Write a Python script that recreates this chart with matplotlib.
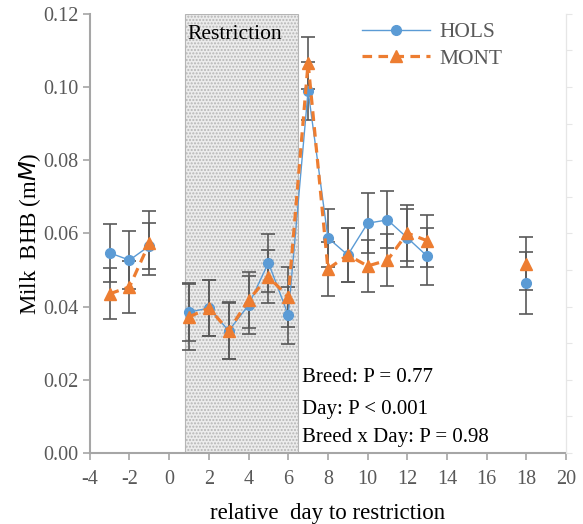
import numpy as np
import matplotlib
matplotlib.use("Agg")
import matplotlib.pyplot as plt

plt.rcParams['font.family'] = ['Liberation Serif', 'DejaVu Serif']
plt.rcParams['axes.unicode_minus'] = False
plt.rcParams['hatch.color'] = '#c4c4c4'

# relative day to restriction (NaN rows break the lines at day 0 and after day 13)
days = [-3, -2, -1, 0, 1, 2, 3, 4, 5, 6, 7, 8, 9, 10, 11, 12, 13, 14, 18]

hols = [0.0547, 0.0527, 0.0566, np.nan, 0.0385, 0.0396, 0.0334, 0.0404, 0.0520, 0.0377,
        0.0990, 0.0588, 0.0541, 0.0628, 0.0637, 0.0588, 0.0538, np.nan, 0.0465]
hols_err = [0.0080, 0.0079, 0.0063, np.nan, 0.0079, 0.0077, 0.0077, 0.0079, 0.0079, 0.0078,
            0.0079, 0.0079, 0.0075, 0.0082, 0.0078, 0.0079, 0.0078, np.nan, 0.0085]

mont = [0.0435, 0.0454, 0.0574, np.nan, 0.0372, 0.0396, 0.0334, 0.0418, 0.0482, 0.0426,
        0.1066, 0.0503, 0.0541, 0.0511, 0.0527, 0.0601, 0.0580, np.nan, 0.0517]
mont_err = [0.0070, 0.0071, 0.0087, np.nan, 0.0090, 0.0077, 0.0078, 0.0077, 0.0072, 0.0081,
            0.0071, 0.0074, 0.0075, 0.0071, 0.0071, 0.0077, 0.0071, np.nan, 0.0072]

restriction = (0.8, 6.5)
stats = ["Breed: P = 0.77", "Day: P < 0.001", "Breed x Day: P = 0.98"]
stats_y = [0.0205, 0.0118, 0.0041]

fig = plt.figure(figsize=(5.83, 5.24), dpi=100)
ax = fig.add_axes([0.154, 0.1355, 0.817, 0.838])

# shaded restriction period
ax.axvspan(restriction[0], restriction[1], facecolor='#ececec', edgecolor='#b5b5b5',
           hatch='.....', linewidth=0.8, zorder=0)
ax.text(restriction[0] + 0.1, 0.1145, "Restriction", fontsize=15.5, va='center')

# error bars
ax.errorbar(days, hols, yerr=hols_err, fmt='none', ecolor='#595959', elinewidth=1.2,
            capsize=5, capthick=1.2, zorder=2)
ax.errorbar(days, mont, yerr=mont_err, fmt='none', ecolor='#595959', elinewidth=1.2,
            capsize=5, capthick=1.2, zorder=2)

ax.plot(days, hols, color='#5B9BD5', linewidth=1.0, marker='o', markersize=7,
        label='HOLS', zorder=3)
ax.plot(days, mont, color='#ED7D31', linewidth=2.3, linestyle=(0, (3, 2)), marker='^',
        markersize=8, label='MONT', zorder=4)

for s, y in zip(stats, stats_y):
    ax.text(6.7, y, s, fontsize=15, va='center', ha='left')

ax.set_xlim(-4, 20)
ax.set_ylim(0, 0.12)
ax.set_xticks(range(-4, 21, 2))
ax.set_yticks(np.arange(0, 0.121, 0.02))
ax.set_yticklabels([f"{v:.2f}" for v in np.arange(0, 0.121, 0.02)])

ax.set_xlabel("relative  day to restriction", fontsize=16.5, labelpad=10)
ax.set_ylabel("Milk  BHB (m$\\it{M}$)", fontsize=16.5, labelpad=0)

ax.spines['top'].set_visible(False)
ax.spines['right'].set_color('#e6e6e6')
for sp in ['left', 'bottom']:
    ax.spines[sp].set_color('#a6a6a6')
    ax.spines[sp].set_linewidth(1.5)
ax.tick_params(axis='both', colors='#a6a6a6', labelcolor='#595959', labelsize=14.5,
               length=5, width=1.2, direction='out')
ax.tick_params(axis='x', pad=7)
ax.tick_params(axis='y', pad=3)

# faint right-hand axis ticks
ax2 = ax.twinx()
ax2.set_ylim(0, 0.12)
ax2.set_yticks(np.arange(0, 0.121, 0.01))
ax2.set_yticklabels([])
ax2.tick_params(axis='y', colors='#e6e6e6', length=4)
for sp in ['top', 'left', 'bottom']:
    ax2.spines[sp].set_visible(False)
ax2.spines['right'].set_color('#e6e6e6')

leg = ax.legend(loc='upper left', bbox_to_anchor=(0.53, 1.025), frameon=False,
                fontsize=15.5, handlelength=3.2, handletextpad=0.4, labelspacing=0.3)
for t in leg.get_texts():
    t.set_color('#595959')

fig.savefig("out.png", dpi=100)
